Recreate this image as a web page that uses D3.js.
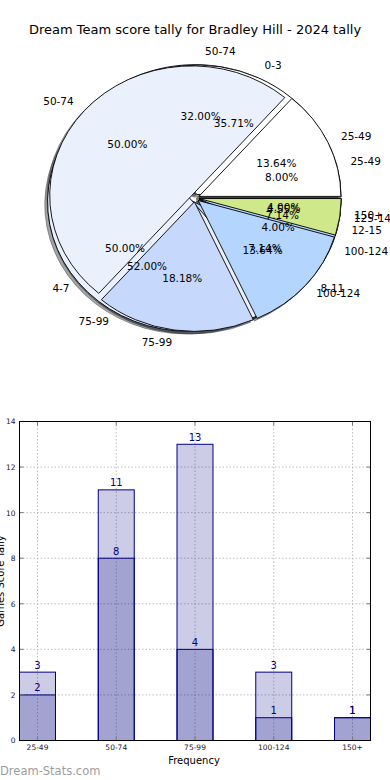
<!DOCTYPE html>
<html>
<head>
<meta charset="utf-8">
<script src="https://cdn.jsdelivr.net/npm/d3@7"></script>
<style>
body { margin: 0; background: #fff; }
svg text { font-family: "DejaVu Sans", sans-serif; }
</style>
</head>
<body>
<script>
// pie 1 : score ranges (25 games)
const pie1Labels = ['25-49', '50-74', '75-99', '100-124', '150+'];
const pie1Values = [2, 8, 13, 1, 1];
// pie 2 : 14 items
const pie2Labels = ['0-3', '4-7', '8-11', '12-15'];
const pie2Values = [5, 7, 1, 1];
// pie 3 : 22 items (drawn on top)
const pie3Labels = ['25-49', '50-74', '75-99', '100-124', '125-149'];
const pie3Values = [3, 11, 4, 3, 1];
const pieColors = ['#ffffff', '#eaf1fd', '#c6d9fc', '#b4d5fe', '#cfe98a'];

// bar chart
const barCategories = ['25-49', '50-74', '75-99', '100-124', '150+'];
const totalValues = [3, 11, 13, 3, 1];
const seasonValues = [2, 8, 4, 1, 1];
const yTicks = [0, 2, 4, 6, 8, 10, 12, 14];

const svg = d3.select('body').append('svg').attr('width', 390).attr('height', 780);

// title
svg.append('text').attr('x', 195).attr('y', 30)
    .attr('text-anchor', 'middle').attr('dominant-baseline', 'middle')
    .style('font-size', '13px').text('Dream Team score tally for Bradley Hill - 2024 tally');

// ---------- pies (matplotlib style: counter-clockwise from 3 o'clock, exploded, shadowed) ----------
const cx = 195, cy = 198, rx = 142, ry = 129.5;
const explode = 0.03;
const pieLayout = d3.pie().sort(null).startAngle(Math.PI / 2).endAngle(Math.PI / 2 - 2 * Math.PI);
const unitArc = d3.arc().innerRadius(0).outerRadius(1);

// point at radius r (unit circle) along the middle of a slice, stretched to the ellipse
function along(d, r) {
    const c = d3.arc().innerRadius(r).outerRadius(r).centroid(d);
    return [c[0] * rx, c[1] * ry];
}

const pieSets = [[pie1Labels, pie1Values], [pie2Labels, pie2Values], [pie3Labels, pie3Values]]
    .map(([labels, values]) => {
        const total = d3.sum(values);
        return pieLayout(values).map((d, i) => ({ ...d, label: labels[i], pct: d.value / total * 100, color: pieColors[i] }));
    });

const shadowLayer = svg.append('g');
const wedgeLayer = svg.append('g');
const textLayer = svg.append('g');

pieSets.forEach(slices => {
    slices.forEach(d => {
        const [ex, ey] = along(d, explode);
        const c = d3.rgb(d.color);
        const shade = d3.rgb(c.r * 0.3, c.g * 0.3, c.b * 0.3).toString();
        shadowLayer.append('path')
            .attr('transform', `translate(${cx + ex - 0.02 * rx},${cy + ey + 0.02 * ry}) scale(${rx},${ry})`)
            .attr('d', unitArc(d))
            .attr('vector-effect', 'non-scaling-stroke')
            .style('fill', shade).style('fill-opacity', 0.5)
            .style('stroke', shade).style('stroke-opacity', 0.5).style('stroke-width', 1);
        wedgeLayer.append('path')
            .attr('transform', `translate(${cx + ex},${cy + ey}) scale(${rx},${ry})`)
            .attr('d', unitArc(d))
            .attr('vector-effect', 'non-scaling-stroke')
            .style('fill', d.color).style('stroke', '#000').style('stroke-width', 0.9);
    });
    slices.forEach(d => {
        const [ex, ey] = along(d, explode);
        const [lx, ly] = along(d, 1.1);
        textLayer.append('text')
            .attr('x', cx + ex + lx).attr('y', cy + ey + ly)
            .attr('text-anchor', lx > 0 ? 'start' : 'end').attr('dominant-baseline', 'middle')
            .style('font-size', '10.5px').text(d.label);
        const [px, py] = along(d, 0.6);
        textLayer.append('text')
            .attr('x', cx + ex + px).attr('y', cy + ey + py)
            .attr('text-anchor', 'middle').attr('dominant-baseline', 'middle')
            .style('font-size', '10.5px').text(d3.format('.2f')(d.pct) + '%');
    });
});

// ---------- bar chart ----------
const plot = { left: 19.5, right: 370.5, top: 421.5, bottom: 740.5 };
const x = d3.scaleBand().domain(barCategories).range([plot.left, plot.right]).paddingInner(0.543).paddingOuter(0);
const y = d3.scaleLinear().domain([0, 14]).range([plot.bottom, plot.top]);
const xMid = c => x(c) + x.bandwidth() / 2;

// dotted grid (seen through the translucent bars)
const grid = svg.append('g').style('stroke', '#bdbdbd').style('stroke-width', 1).style('stroke-dasharray', '1.5,2');
grid.selectAll('.gx').data(barCategories).enter().append('line')
    .attr('x1', xMid).attr('x2', xMid).attr('y1', plot.top).attr('y2', plot.bottom);
grid.selectAll('.gy').data(yTicks).enter().append('line')
    .attr('x1', plot.left).attr('x2', plot.right).attr('y1', d => y(d)).attr('y2', d => y(d));

const barsG = svg.append('g');
barsG.selectAll('.total').data(barCategories).enter().append('rect')
    .attr('class', 'total')
    .attr('x', d => x(d)).attr('width', x.bandwidth())
    .attr('y', (d, i) => y(totalValues[i])).attr('height', (d, i) => y(0) - y(totalValues[i]))
    .style('fill', '#000080').style('fill-opacity', 0.2).style('stroke', '#000080').style('stroke-width', 1);
barsG.selectAll('.season').data(barCategories).enter().append('rect')
    .attr('class', 'season')
    .attr('x', d => x(d)).attr('width', x.bandwidth())
    .attr('y', (d, i) => y(seasonValues[i])).attr('height', (d, i) => y(0) - y(seasonValues[i]))
    .style('fill', '#000080').style('fill-opacity', 0.2).style('stroke', '#000080').style('stroke-width', 1);

// inward ticks on all sides
const ticks = svg.append('g').style('stroke', '#777').style('stroke-width', 1);
yTicks.forEach(t => {
    ticks.append('line').attr('x1', plot.left).attr('x2', plot.left + 4).attr('y1', y(t)).attr('y2', y(t));
    ticks.append('line').attr('x1', plot.right).attr('x2', plot.right - 4).attr('y1', y(t)).attr('y2', y(t));
});
barCategories.forEach(c => {
    ticks.append('line').attr('x1', xMid(c)).attr('x2', xMid(c)).attr('y1', plot.bottom).attr('y2', plot.bottom - 4);
    ticks.append('line').attr('x1', xMid(c)).attr('x2', xMid(c)).attr('y1', plot.top).attr('y2', plot.top + 4);
});

svg.append('rect').attr('x', plot.left).attr('y', plot.top)
    .attr('width', plot.right - plot.left).attr('height', plot.bottom - plot.top)
    .style('fill', 'none').style('stroke', '#000').style('stroke-width', 1);

// axes labels
const yAxis = d3.axisLeft(y).tickValues(yTicks).tickSize(0).tickPadding(4);
const yAxisG = svg.append('g').attr('transform', `translate(${plot.left},0)`).call(yAxis);
const xAxis = d3.axisBottom(x).tickSize(0).tickPadding(4);
const xAxisG = svg.append('g').attr('transform', `translate(0,${plot.bottom})`).call(xAxis);
[yAxisG, xAxisG].forEach(g => {
    g.select('.domain').remove();
    g.selectAll('text').style('font-size', '7.5px').style('font-family', '"DejaVu Sans", sans-serif').style('fill', '#222');
});

// value labels
const vals = svg.append('g').style('fill', '#000080').style('font-size', '10px').attr('text-anchor', 'middle');
barCategories.forEach((c, i) => {
    vals.append('text').attr('x', xMid(c)).attr('y', y(totalValues[i]) - 3.5).text(totalValues[i]);
    vals.append('text').attr('x', xMid(c)).attr('y', y(seasonValues[i]) - 3.5).text(seasonValues[i]);
});

svg.append('text').attr('x', 194).attr('y', 764).attr('text-anchor', 'middle')
    .style('font-size', '10px').text('Frequency');
svg.append('text').attr('transform', `translate(1,${(plot.top + plot.bottom) / 2}) rotate(-90)`)
    .attr('text-anchor', 'middle').attr('dominant-baseline', 'middle')
    .style('font-size', '10px').text('Games Score Tally');

svg.append('text').attr('x', 0).attr('y', 775)
    .style('font-size', '11.5px').style('fill', '#9d9d9d').text('Dream-Stats.com');
</script>
</body>
</html>
